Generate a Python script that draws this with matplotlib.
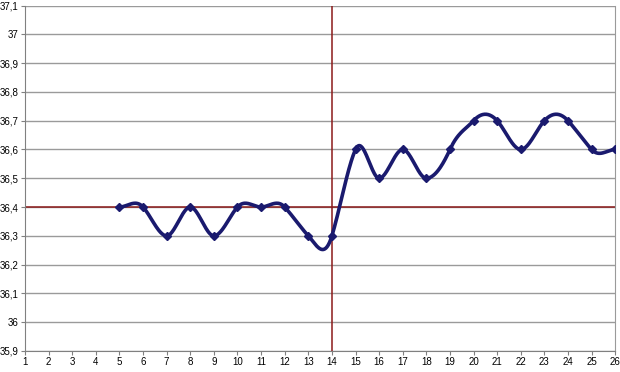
import matplotlib
matplotlib.use("Agg")
import matplotlib.pyplot as plt
import numpy as np

plt.rcParams["font.family"] = ["Liberation Sans", "DejaVu Sans"]

days = [5, 6, 7, 8, 9, 10, 11, 12, 13, 14, 15, 16, 17, 18, 19, 20, 21, 22, 23, 24, 25, 26]
temps = [36.4, 36.4, 36.3, 36.4, 36.3, 36.4, 36.4, 36.4, 36.3, 36.3, 36.6, 36.5, 36.6, 36.5,
         36.6, 36.7, 36.7, 36.6, 36.7, 36.7, 36.6, 36.6]
x_ticks = list(range(1, 27))
y_ticks = [35.9, 36.0, 36.1, 36.2, 36.3, 36.4, 36.5, 36.6, 36.7, 36.8, 36.9, 37.0, 37.1]
ref_temp = 36.4
ref_day = 14


def smooth(xs, ys, k=0.9, n=40):
    xs = np.asarray(xs, float)
    ys = np.asarray(ys, float)
    m = np.zeros_like(ys)
    for i in range(1, len(xs) - 1):
        m[i] = 2 * k * (ys[i + 1] - ys[i - 1]) / (xs[i + 1] - xs[i - 1])
    m[0] = k * (ys[1] - ys[0]) / (xs[1] - xs[0])
    m[-1] = k * (ys[-1] - ys[-2]) / (xs[-1] - xs[-2])
    t = np.linspace(0, 1, n)
    h00 = 2 * t**3 - 3 * t**2 + 1
    h10 = t**3 - 2 * t**2 + t
    h01 = -2 * t**3 + 3 * t**2
    h11 = t**3 - t**2
    outx, outy = [], []
    for i in range(len(xs) - 1):
        dx = xs[i + 1] - xs[i]
        outx.extend(xs[i] + t * dx)
        outy.extend(h00 * ys[i] + h10 * dx * m[i] + h01 * ys[i + 1] + h11 * dx * m[i + 1])
    return outx, outy


fig = plt.figure(figsize=(6.2, 3.72), dpi=100)
ax = fig.add_axes([0.0403, 0.0565, 0.952, 0.9285])

for y in y_ticks:
    ax.axhline(y, color="#9a9a9a", lw=1, zorder=1)

ax.axhline(ref_temp, color="#8b1a1a", lw=1.1, zorder=2)
ax.axvline(ref_day, color="#8b1a1a", lw=1.1, zorder=2)

sx, sy = smooth(days, temps)
ax.plot(sx, sy, color="#1a1a6e", lw=2.6, zorder=3, solid_capstyle="round", solid_joinstyle="round")
ax.plot(days, temps, linestyle="none", marker="D", ms=4.5, color="#1a1a6e", zorder=4)

ax.set_xlim(1, 26)
ax.set_ylim(35.9, 37.1)
ax.set_xticks(x_ticks)
ax.set_xticklabels([str(v) for v in x_ticks], fontsize=7)
ax.set_yticks(y_ticks)
ax.set_yticklabels([f"{v:g}".replace(".", ",") for v in y_ticks], fontsize=7)
ax.tick_params(axis="both", length=3, width=0.8, color="#808080", pad=1.5)
for s in ["left", "bottom"]:
    ax.spines[s].set_color("#808080")
ax.spines["top"].set_visible(False)
ax.spines["right"].set_color("#9a9a9a")

fig.savefig("out.png", dpi=100)
